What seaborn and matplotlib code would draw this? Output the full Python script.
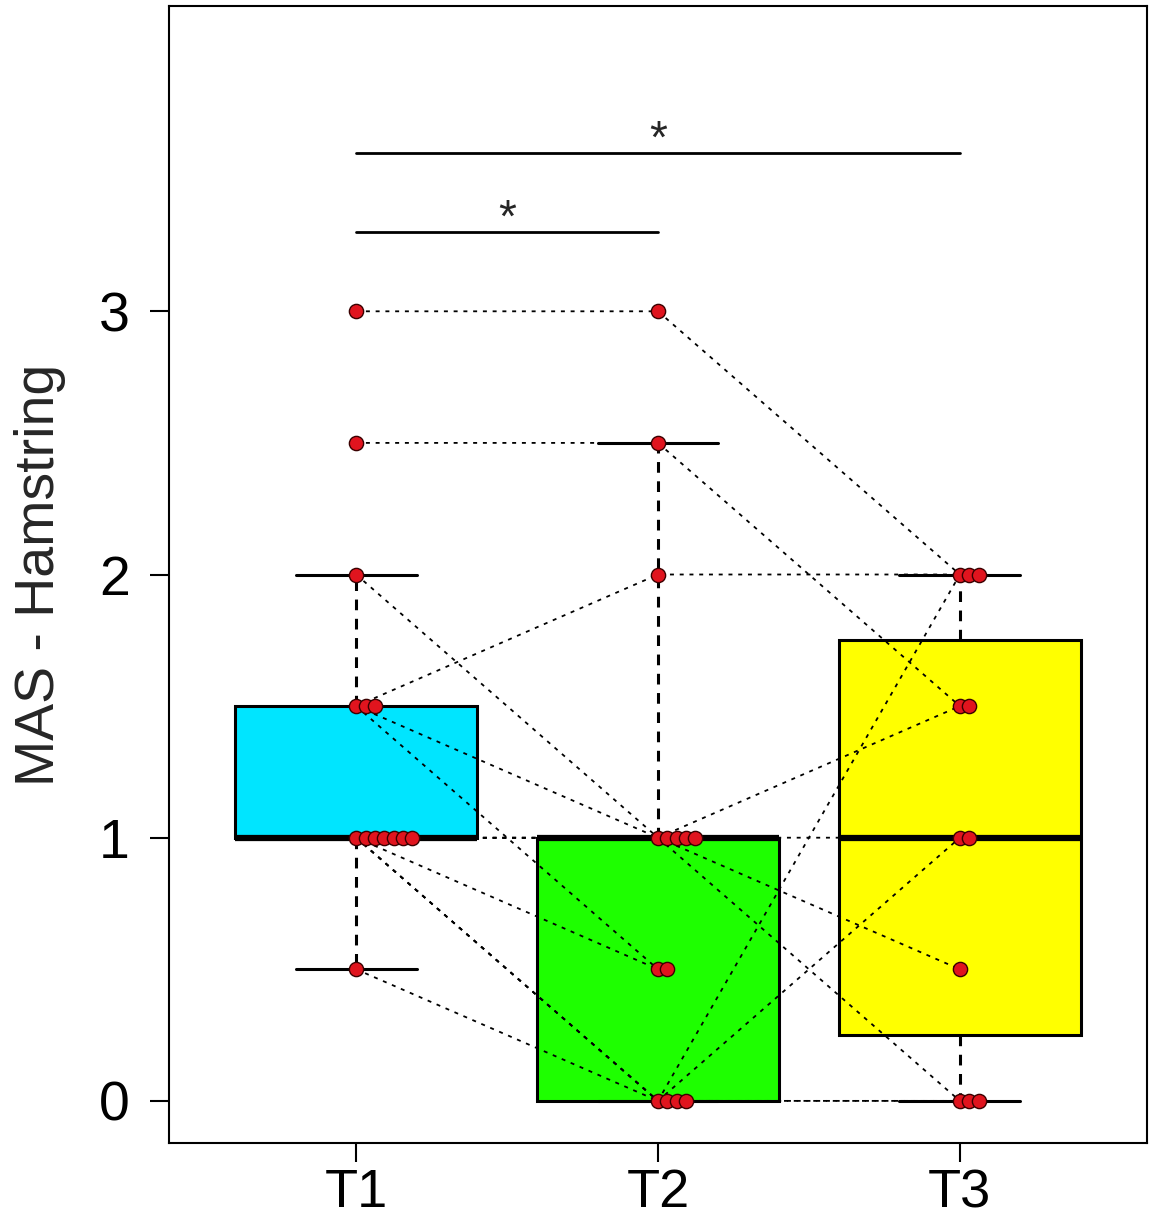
import numpy as np
import pandas as pd
import matplotlib as mpl
import matplotlib.pyplot as plt
from matplotlib.path import Path
import seaborn as sns

# data: one row per patient, NaN = no value at that time
groups = ['T1', 'T2', 'T3']
t1 = [3, 2.5, 2, 1.5, 1.5, 1.5, 1, 1, 1, 1, 1, 1, 1, 0.5]
t2 = [3, 2.5, 1, 1, 0.5, 2, 1, 1, 1, 0.5, 0, 0, 0, 0]
t3 = [2, 1.5, 1.5, 1, np.nan, 2, 0.5, 0, np.nan, np.nan, 2, 1, 0, 0]
box_colors = ['#00E5FF', '#1EFF00', '#FFFF00']
ylabel = 'MAS - Hamstring'
# significance bars: (group a, group b, height)
sig_pairs = [('T1', 'T2', 3.3), ('T1', 'T3', 3.6)]

sns.set_style('ticks')
plt.rcParams['font.family'] = ['Liberation Sans', 'DejaVu Sans']

df = pd.DataFrame({'subject': np.arange(len(t1)), 'T1': t1, 'T2': t2, 'T3': t3})
long = df.melt(id_vars='subject', var_name='time', value_name='mas').dropna()
long['pos'] = long['time'].map({g: i for i, g in enumerate(groups)})
# tied values are stacked sideways, like stripchart(method = "stack")
long['xs'] = long['pos'] + 0.031 * long.groupby(['time', 'mas']).cumcount()


def r_box_stats(v):
    # R's boxplot uses Tukey hinges (fivenum), not linear quartiles
    v = np.sort(v)
    n = len(v)
    n4 = np.floor((n + 3) / 2) / 2
    d = np.array([1, n4, (n + 1) / 2, n + 1 - n4, n]) - 1
    f = 0.5 * (v[np.floor(d).astype(int)] + v[np.ceil(d).astype(int)])
    iqr = f[3] - f[1]
    return {'q1': f[1], 'q3': f[3],
            'whislo': v[v >= f[1] - 1.5 * iqr].min(),
            'whishi': v[v <= f[3] + 1.5 * iqr].max()}


fig = plt.figure(figsize=(11.55, 12.2), dpi=100)
ax = fig.add_axes([169 / 1155, 1 - 1143 / 1220, 978 / 1155, 1137 / 1220])

sns.boxplot(data=long, x='time', y='mas', hue='time', order=groups, hue_order=groups,
            palette=box_colors, saturation=1, width=0.8, whis=1.5, showfliers=False,
            linecolor='black', linewidth=2.2, legend=False,
            medianprops={'linewidth': 4.5},
            whiskerprops={'linestyle': (0, (3.5, 2.8))}, ax=ax)

# move hinges / whiskers to the R values
for i, g in enumerate(groups):
    v = long.loc[long['time'] == g, 'mas'].to_numpy()
    mst = mpl.cbook.boxplot_stats(v, whis=1.5)[0]
    rst = r_box_stats(v)
    remap = {float(mst[k]): float(rst[k]) for k in rst}

    def fix(y):
        return np.array([remap.get(float(val), val) for val in y])

    for ln in ax.lines:
        x = np.asarray(ln.get_xdata(), float)
        if len(x) and abs(x.mean() - i) < 0.45:
            ln.set_ydata(fix(np.asarray(ln.get_ydata(), float)))
    for p in ax.patches:
        path = p.get_path()
        verts = path.vertices.copy()
        if abs(verts[:, 0].mean() - i) < 0.45:
            verts[:, 1] = fix(verts[:, 1])
            p.set_path(Path(verts, path.codes))

# paired lines per patient, drawn from the group centre (under the points)
sns.lineplot(data=long, x='pos', y='mas', units='subject', estimator=None,
             color='black', linewidth=1.3, linestyle=(0, (2.2, 3.2)),
             ax=ax, zorder=3, legend=False)

sns.scatterplot(data=long, x='xs', y='mas', color='#E0141E', edgecolor='#3a0000',
                linewidth=1, s=105, zorder=4, ax=ax, legend=False)

for a, b, y in sig_pairs:
    xa, xb = groups.index(a), groups.index(b)
    ax.plot([xa, xb], [y, y], color='black', lw=2)
    ax.text((xa + xb) / 2, y + 0.05, '*', ha='center', va='center', fontsize=33)

ax.set_xlim(-0.62, 2.62)
ax.set_ylim(-0.16, 4.16)
ax.set_xticks(range(len(groups)), groups)
ax.set_yticks([0, 1, 2, 3])
ax.set_xlabel('')
ax.set_ylabel(ylabel, fontsize=40)
ax.yaxis.set_label_coords(-0.105, 0.5)
ax.tick_params(axis='both', labelsize=40, length=14, width=1.5, direction='out',
               left=True, bottom=True, colors='black')
ax.tick_params(axis='y', pad=14)
ax.tick_params(axis='x', labelsize=39, pad=4)
for s in ax.spines.values():
    s.set_visible(True)
    s.set_linewidth(1.5)
    s.set_color('black')

fig.savefig('out.png', dpi=100)
